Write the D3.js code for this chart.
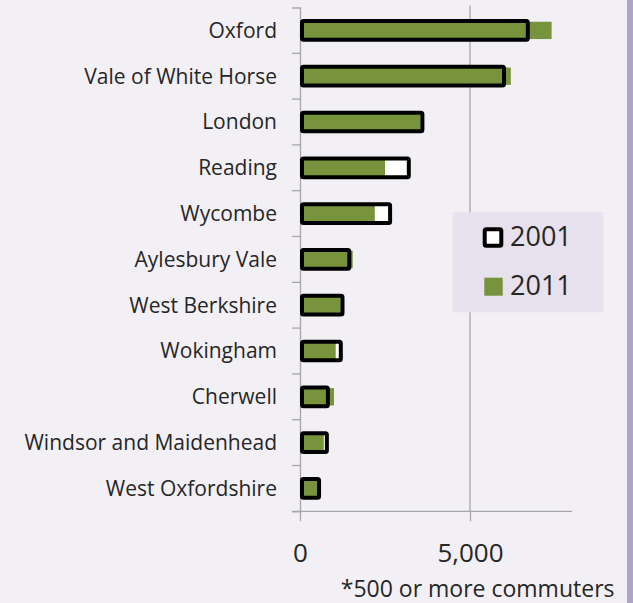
<!DOCTYPE html>
<html>
<head>
<meta charset="utf-8">
<script src="https://cdn.jsdelivr.net/npm/d3@7/dist/d3.min.js"></script>
<style>
  html, body { margin: 0; padding: 0; background: #f2f0f5; }
  svg { display: block; }
  text { font-family: "Open Sans", "Noto Sans", sans-serif; fill: #262626; }
</style>
</head>
<body>
<svg id="chart" width="633" height="603"></svg>
<script>
// Commuter destinations (*500 or more commuters), 2001 vs 2011
const categories = [
  "Oxford", "Vale of White Horse", "London", "Reading", "Wycombe",
  "Aylesbury Vale", "West Berkshire", "Wokingham", "Cherwell",
  "Windsor and Maidenhead", "West Oxfordshire"
];
const values2001 = [6700, 6000, 3600, 3200, 2650, 1450, 1250, 1200, 820, 790, 560];
const values2011 = [7400, 6200, 3550, 2500, 2200, 1550, 1200, 1050, 1000, 700, 500];
const seriesNames = ["2001", "2011"];
const xTicks = [0, 5000];

const W = 633, H = 603;
const svg = d3.select("#chart");

const plot = { left: 300, right: 572, top: 7.5, bottom: 511.3 };

const x = d3.scaleLinear().domain([0, 8000]).range([plot.left, plot.right]);
const y = d3.scaleBand().domain(categories).range([plot.top, plot.bottom]).padding(0);

const green = "#77933c";
const lineGray = "#a6a6a6";

// background and right-hand accent strip
svg.append("rect").attr("width", W).attr("height", H).attr("fill", "#f2f0f5");
svg.append("rect").attr("x", 627).attr("y", 0).attr("width", 6).attr("height", H).attr("fill", "#b3a2c7");

// vertical gridlines
svg.append("g")
  .selectAll("line")
  .data(xTicks.filter(d => d > 0))
  .join("line")
  .attr("x1", d => x(d)).attr("x2", d => x(d))
  .attr("y1", plot.top - 2).attr("y2", plot.bottom)
  .attr("stroke", lineGray).attr("stroke-width", 1.3);

// category axis (left)
const yAxis = d3.axisLeft(y).tickSize(8).tickFormat("");
const gy = svg.append("g").attr("transform", `translate(${plot.left},0)`).call(yAxis);
gy.select(".domain").attr("stroke", lineGray).attr("stroke-width", 1.3);
gy.selectAll(".tick").remove();
// ticks at band boundaries
gy.selectAll("line.bound")
  .data(categories.slice(1))
  .join("line")
  .attr("class", "bound")
  .attr("x1", -8).attr("x2", 0)
  .attr("y1", d => y(d)).attr("y2", d => y(d))
  .attr("stroke", lineGray).attr("stroke-width", 1.3);

// value axis (bottom)
const xAxis = d3.axisBottom(x).tickValues(xTicks).tickSize(10).tickFormat(d3.format(","));
const gx = svg.append("g").attr("transform", `translate(0,${plot.bottom})`).call(xAxis);
gx.select(".domain").attr("d", `M${plot.left - 8},0H${plot.right}`).attr("stroke", lineGray).attr("stroke-width", 1.3);
gx.selectAll(".tick line").attr("stroke", lineGray).attr("stroke-width", 1.3);
gx.selectAll(".tick text")
  .attr("y", 51).attr("dy", 0)
  .style("font-size", "26px")
  .attr("fill", "#262626");

// category labels
svg.append("g")
  .selectAll("text")
  .data(categories)
  .join("text")
  .attr("x", 277)
  .attr("y", d => y(d) + y.bandwidth() / 2)
  .attr("dy", "0.35em")
  .attr("text-anchor", "end")
  .style("font-size", "21px")
  .text(d => d);

const outlineH = y.step() * 0.408;
const greenH = y.step() * 0.378;
const cy = d => y(d) + y.bandwidth() / 2;

// 2001 fill (white)
svg.append("g")
  .selectAll("rect")
  .data(categories)
  .join("rect")
  .attr("x", x(0) + 2)
  .attr("y", d => cy(d) - outlineH / 2)
  .attr("width", (d, i) => x(values2001[i]) - x(0) - 2)
  .attr("height", outlineH)
  .attr("fill", "#ffffff");

// 2011 bars
svg.append("g")
  .selectAll("rect")
  .data(categories)
  .join("rect")
  .attr("x", x(0))
  .attr("y", d => cy(d) - greenH / 2)
  .attr("width", (d, i) => x(values2011[i]) - x(0))
  .attr("height", greenH)
  .attr("fill", green);

// 2001 outline
svg.append("g")
  .selectAll("rect")
  .data(categories)
  .join("rect")
  .attr("x", x(0) + 2)
  .attr("y", d => cy(d) - outlineH / 2)
  .attr("width", (d, i) => x(values2001[i]) - x(0) - 2)
  .attr("height", outlineH)
  .attr("rx", 1.5)
  .attr("fill", "none")
  .attr("stroke", "#000")
  .attr("stroke-width", 4);

// legend
const lg = svg.append("g");
lg.append("rect")
  .attr("x", 452.7).attr("y", 212.3).attr("width", 150.6).attr("height", 100)
  .attr("fill", "#e6e1ed");
lg.append("rect")
  .attr("x", 484.7).attr("y", 229.3).attr("width", 16.6).attr("height", 16.4)
  .attr("rx", 1.5)
  .attr("fill", "#ffffff").attr("stroke", "#000").attr("stroke-width", 4);
lg.append("rect")
  .attr("x", 484.3).attr("y", 277.7).attr("width", 18.4).attr("height", 18)
  .attr("fill", green);
lg.selectAll("text")
  .data(seriesNames)
  .join("text")
  .attr("x", 510)
  .attr("y", (d, i) => 245.7 + i * 49.3)
  .style("font-size", "27px")
  .text(d => d);

// footnote
svg.append("text")
  .attr("x", 614.5).attr("y", 596.5)
  .attr("text-anchor", "end")
  .style("font-size", "23px")
  .text("*500 or more commuters");
</script>
</body>
</html>
